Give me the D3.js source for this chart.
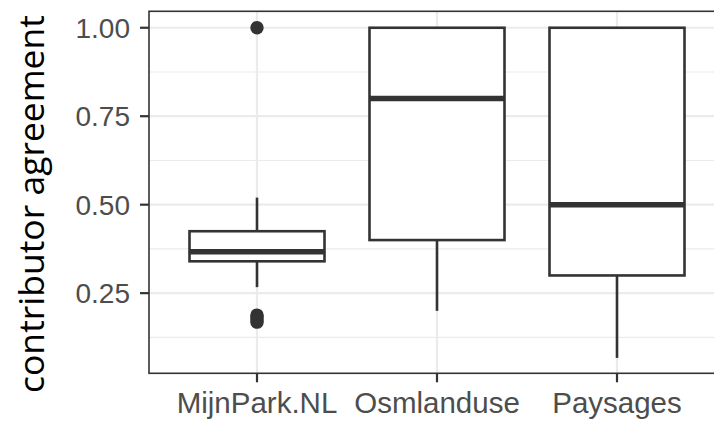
<!DOCTYPE html>
<html>
<head>
<meta charset="utf-8" />
<style>
  html, body { margin: 0; padding: 0; background: #fff; }
  .tick-label { font-family: "Liberation Sans", Arial, sans-serif; fill: #4d4d4d; }
  .title { font-family: "Open Sans", "Noto Sans", sans-serif; fill: #000; }
</style>
</head>
<body>
<div id="vis"></div>
<script src="https://d3js.org/d3.v7.min.js"></script>
<script>
// data
var categories = ["MijnPark.NL", "Osmlanduse", "Paysages"];
var whiskerLow = [0.267, 0.20, 0.067];
var q1 = [0.34, 0.40, 0.30];
var median = [0.367, 0.80, 0.50];
var q3 = [0.425, 1.00, 1.00];
var whiskerHigh = [0.52, 1.00, 1.00];
var outliers = [[1.0, 0.188, 0.182, 0.175, 0.168], [], []];
var yTicks = [0.25, 0.50, 0.75, 1.00];
var yMinor = [0.125, 0.375, 0.625, 0.875];

(function() {
  var W = 714, H = 421;
  var pLeft = 149, pRight = 725, pTop = 11.3, pBottom = 373.3;
  var dark = "#333333";

  var svg = d3.select("#vis").append("svg").attr("width", W).attr("height", H);

  var x = d3.scaleLinear().domain([0.4, 3.6]).range([pLeft, pRight]);
  var y = d3.scaleLinear().domain([0.0235, 1.0465]).range([pBottom, pTop]);

  // grid
  var grid = svg.append("g");
  grid.selectAll(".minor").data(yMinor).enter().append("line")
    .attr("x1", pLeft).attr("x2", pRight)
    .attr("y1", function(d) { return y(d); }).attr("y2", function(d) { return y(d); })
    .attr("stroke", "#ebebeb").attr("stroke-width", 1.1);
  grid.selectAll(".major").data(yTicks).enter().append("line")
    .attr("x1", pLeft).attr("x2", pRight)
    .attr("y1", function(d) { return y(d); }).attr("y2", function(d) { return y(d); })
    .attr("stroke", "#ebebeb").attr("stroke-width", 2.2);
  grid.selectAll(".vmajor").data(categories).enter().append("line")
    .attr("x1", function(d, i) { return x(i + 1); }).attr("x2", function(d, i) { return x(i + 1); })
    .attr("y1", pTop).attr("y2", pBottom)
    .attr("stroke", "#ebebeb").attr("stroke-width", 2.2);

  // boxes
  var bw = 0.75, lw = 2.6;
  var boxes = svg.selectAll(".box").data(categories).enter().append("g").attr("class", "box");
  boxes.append("line")
    .attr("x1", function(d, i) { return x(i + 1); }).attr("x2", function(d, i) { return x(i + 1); })
    .attr("y1", function(d, i) { return y(q3[i]); }).attr("y2", function(d, i) { return y(whiskerHigh[i]); })
    .attr("stroke", dark).attr("stroke-width", lw);
  boxes.append("line")
    .attr("x1", function(d, i) { return x(i + 1); }).attr("x2", function(d, i) { return x(i + 1); })
    .attr("y1", function(d, i) { return y(q1[i]); }).attr("y2", function(d, i) { return y(whiskerLow[i]); })
    .attr("stroke", dark).attr("stroke-width", lw);
  boxes.append("rect")
    .attr("x", function(d, i) { return x(i + 1 - bw / 2); })
    .attr("width", function(d, i) { return x(i + 1 + bw / 2) - x(i + 1 - bw / 2); })
    .attr("y", function(d, i) { return y(q3[i]); })
    .attr("height", function(d, i) { return y(q1[i]) - y(q3[i]); })
    .attr("fill", "#fff").attr("stroke", dark).attr("stroke-width", lw);
  boxes.append("line")
    .attr("x1", function(d, i) { return x(i + 1 - bw / 2); }).attr("x2", function(d, i) { return x(i + 1 + bw / 2); })
    .attr("y1", function(d, i) { return y(median[i]); }).attr("y2", function(d, i) { return y(median[i]); })
    .attr("stroke", dark).attr("stroke-width", 5.5);
  boxes.each(function(d, i) {
    d3.select(this).selectAll("circle").data(outliers[i]).enter().append("circle")
      .attr("cx", x(i + 1)).attr("cy", function(v) { return y(v); })
      .attr("r", 6.7).attr("fill", dark);
  });

  // panel border
  svg.append("rect")
    .attr("x", pLeft).attr("y", pTop).attr("width", pRight - pLeft).attr("height", pBottom - pTop)
    .attr("fill", "none").attr("stroke", dark).attr("stroke-width", 1.6);

  // y axis
  var yAxis = svg.append("g");
  yAxis.selectAll("line").data(yTicks).enter().append("line")
    .attr("x1", pLeft - 9).attr("x2", pLeft)
    .attr("y1", function(d) { return y(d); }).attr("y2", function(d) { return y(d); })
    .attr("stroke", dark).attr("stroke-width", 2.2);
  yAxis.selectAll("text").data(yTicks).enter().append("text")
    .attr("class", "tick-label")
    .attr("x", pLeft - 19).attr("y", function(d) { return y(d); })
    .attr("dy", "0.36em").attr("text-anchor", "end")
    .style("font-size", "28px")
    .text(d3.format(".2f"));

  // x axis
  var xAxis = svg.append("g");
  xAxis.selectAll("line").data(categories).enter().append("line")
    .attr("x1", function(d, i) { return x(i + 1); }).attr("x2", function(d, i) { return x(i + 1); })
    .attr("y1", pBottom).attr("y2", pBottom + 9)
    .attr("stroke", dark).attr("stroke-width", 2.2);
  xAxis.selectAll("text").data(categories).enter().append("text")
    .attr("class", "tick-label")
    .attr("x", function(d, i) { return x(i + 1); }).attr("y", 413)
    .attr("text-anchor", "middle")
    .style("font-size", "29.5px")
    .text(function(d) { return d; });

  // y title
  var title = svg.append("text")
    .attr("class", "title")
    .attr("transform", "translate(44," + ((15 + 393) / 2) + ") rotate(-90)")
    .attr("text-anchor", "middle")
    .style("font-size", "34px")
    .text("contributor agreement");
  var len = title.node().getComputedTextLength();
  title.style("font-size", (34 * 378 / len) + "px");
})();
</script>
</body>
</html>
